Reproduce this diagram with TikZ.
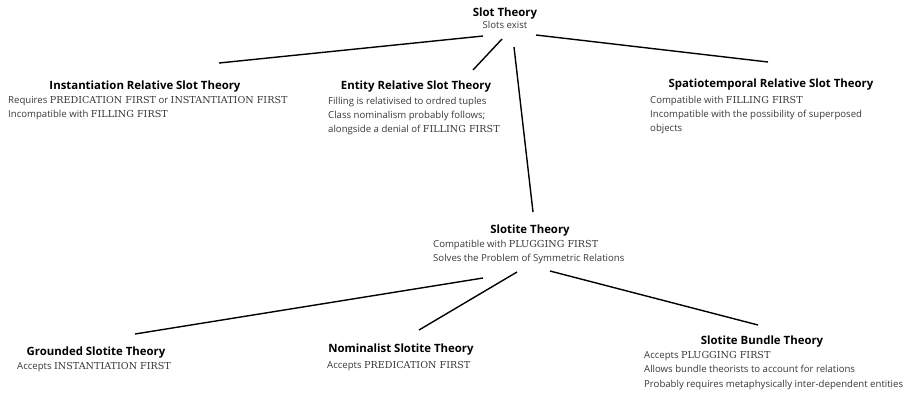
\documentclass[tikz,border=0pt]{standalone}
\usepackage{fontspec}
\setmainfont{Open Sans}
\newfontfamily\capsfont[Scale=1.0]{DejaVu Serif}
\newcommand{\cp}[1]{{\capsfont #1}}
\begin{document}
\begin{tikzpicture}[x=1pt,y=1pt,
  ttl/.style={anchor=base,inner sep=0pt,font=\fontsize{11.4}{13}\selectfont\bfseries,text=black},
  bdy/.style={anchor=base west,inner sep=0pt,align=left,font=\fontsize{9.6}{14}\selectfont,text=black!78},
  conn/.style={line width=1.4pt,black}]
\useasboundingbox (0,0) rectangle (913,-392);
% titles
\node[ttl] (slotT) at (505,-16) {Slot Theory};
\node[bdy,anchor=base] (slotB) at (505,-28) {Slots exist};
\node[ttl] (instT) at (145,-89) {Instantiation Relative Slot Theory};
\node[bdy] (instB) at (8,-117) {Requires \cp{PREDICATION FIRST} or \cp{INSTANTIATION FIRST}\\Incompatible with \cp{FILLING FIRST}};
\node[ttl] (entT) at (416,-89) {Entity Relative Slot Theory};
\node[bdy] (entB) at (328,-132) {Filling is relativised to ordred tuples\\Class nominalism probably follows;\\alongside a denial of \cp{FILLING FIRST}};
\node[ttl] (spatT) at (771,-87) {Spatiotemporal Relative Slot Theory};
\node[bdy] (spatB) at (650,-131) {Compatible with \cp{FILLING FIRST}\\Incompatible with the possibility of superposed\\objects};
\node[ttl] (sltT) at (530,-233) {Slotite Theory};
\node[bdy] (sltB) at (433,-261) {Compatible with \cp{PLUGGING FIRST}\\Solves the Problem of Symmetric Relations};
\node[ttl] (grdT) at (96,-355) {Grounded Slotite Theory};
\node[bdy] (grdB) at (17,-369) {Accepts \cp{INSTANTIATION FIRST}};
\node[ttl] (nomT) at (401,-352) {Nominalist Slotite Theory};
\node[bdy] (nomB) at (327,-368) {Accepts \cp{PREDICATION FIRST}};
\node[ttl] (bunT) at (762,-344) {Slotite Bundle Theory};
\node[bdy,font=\fontsize{9.6}{14.5}\selectfont] (bunB) at (644,-387) {Accepts \cp{PLUGGING FIRST}\\Allows bundle theorists to account for relations\\Probably requires metaphysically inter-dependent entities};
% connectors
\draw[conn] ([shift={(-22,-8)}]slotB.base) -- ([shift={(74,26)}]instT.base);
\draw[conn] ([shift={(-3,-11)}]slotB.base) -- ([shift={(57,19)}]entT.base);
\draw[conn] ([shift={(9,-19)}]slotB.base) -- ([shift={(3,21)}]sltT.base);
\draw[conn] ([shift={(31,-7)}]slotB.base) -- ([shift={(-3,25)}]spatT.base);
\draw[conn] ([shift={(-47,-45)}]sltT.base) -- ([shift={(39,21)}]grdT.base);
\draw[conn] ([shift={(-13,-39)}]sltT.base) -- ([shift={(18,22)}]nomT.base);
\draw[conn] ([shift={(20,-38)}]sltT.base) -- ([shift={(-4,19)}]bunT.base);
\end{tikzpicture}
\end{document}
